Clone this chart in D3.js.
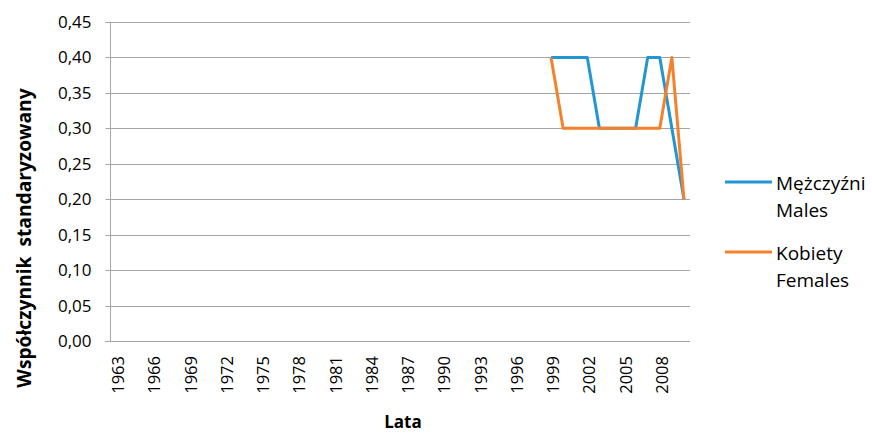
<!DOCTYPE html>
<html><head><meta charset="utf-8">
<script src="https://cdn.jsdelivr.net/npm/d3@7"></script>
<style>body{margin:0;background:#fff}svg{display:block}text{font-family:"Open Sans",sans-serif}</style>
</head><body><svg id="c" width="872" height="434"></svg>
<script>
const years = d3.range(1963, 2011);
const tickYears = d3.range(1963, 2011, 3);
const males = {1999:0.40,2000:0.40,2001:0.40,2002:0.40,2003:0.30,2004:0.30,2005:0.30,2006:0.30,2007:0.40,2008:0.40,2009:0.30,2010:0.20};
const females = {1999:0.40,2000:0.30,2001:0.30,2002:0.30,2003:0.30,2004:0.30,2005:0.30,2006:0.30,2007:0.30,2008:0.30,2009:0.40,2010:0.20};
const yTicks = [0,0.05,0.10,0.15,0.20,0.25,0.30,0.35,0.40,0.45];
const seriesNames = [["Mężczyźni","Males"],["Kobiety","Females"]];
const colors = ["#2196D3","#F7812A"];

const svg = d3.select("#c");
const L=110,R=690,T=22,B=341;
const x = d3.scaleBand().domain(years).range([L,R]);
const y = d3.scaleLinear().domain([0,0.45]).range([B,T]);
const fmt = v => d3.format(".2f")(v).replace(".",",");

// gridlines
svg.append("g").selectAll("line").data(yTicks.filter(v=>v>0)).join("line")
  .attr("x1",L).attr("x2",R).attr("y1",d=>Math.round(y(d))+0.5).attr("y2",d=>Math.round(y(d))+0.5)
  .attr("stroke","#a6a6a6").attr("stroke-width",1);

// y axis
const ya = svg.append("g").attr("transform",`translate(${L+0.5},0)`)
  .call(d3.axisLeft(y).tickValues(yTicks).tickFormat(fmt).tickSize(5).tickPadding(14));
ya.select(".domain").attr("stroke","#a6a6a6").attr("d",`M-5,${T+0.5}H0V${B+0.5}`);
ya.selectAll(".tick line").attr("stroke","#a6a6a6");
ya.selectAll("text").attr("font-size",17).attr("fill","#000").attr("font-family","Open Sans");
ya.selectAll(".tick").attr("transform",d=>`translate(0,${Math.round(y(d))+0.5})`);

// x axis
svg.append("line").attr("x1",L-5).attr("x2",R).attr("y1",B+0.5).attr("y2",B+0.5).attr("stroke","#a6a6a6");
svg.append("g").selectAll("text").data(tickYears).join("text")
  .attr("transform",d=>`translate(${x(d)+x.bandwidth()/2+8},${B+15}) rotate(-90)`)
  .attr("text-anchor","end").attr("font-size",16.5).text(d=>d);

// lines
const line = d3.line().x(d=>x(d[0])+x.bandwidth()/2).y(d=>y(d[1]));
[males,females].forEach((s,i)=>{
  const pts = years.filter(yr=>s[yr]!==undefined).map(yr=>[yr,s[yr]]);
  svg.append("path").datum(pts).attr("d",line).attr("fill","none")
    .attr("stroke",colors[i]).attr("stroke-width",3).attr("stroke-linejoin","round");
});

// axis titles
svg.append("text").attr("x",403).attr("y",428).attr("text-anchor","middle")
  .attr("font-size",17).attr("font-weight","bold").text("Lata");
svg.append("text").attr("transform","translate(31,238) rotate(-90)").attr("text-anchor","middle")
  .attr("font-size",19.2).attr("font-weight","bold").attr("xml:space","preserve").style("white-space","pre").text("Współczynnik  standaryzowany");

// legend
const lineY = [182,252];
const textY = [[189.5,217],[260,287]];
seriesNames.forEach((n,i)=>{
  svg.append("line").attr("x1",725).attr("x2",772).attr("y1",lineY[i]).attr("y2",lineY[i])
    .attr("stroke",colors[i]).attr("stroke-width",3);
  svg.append("text").attr("x",776).attr("y",textY[i][0]).attr("font-size",19).text(n[0]);
  svg.append("text").attr("x",776).attr("y",textY[i][1]).attr("font-size",19).text(n[1]);
});
</script></body></html>
